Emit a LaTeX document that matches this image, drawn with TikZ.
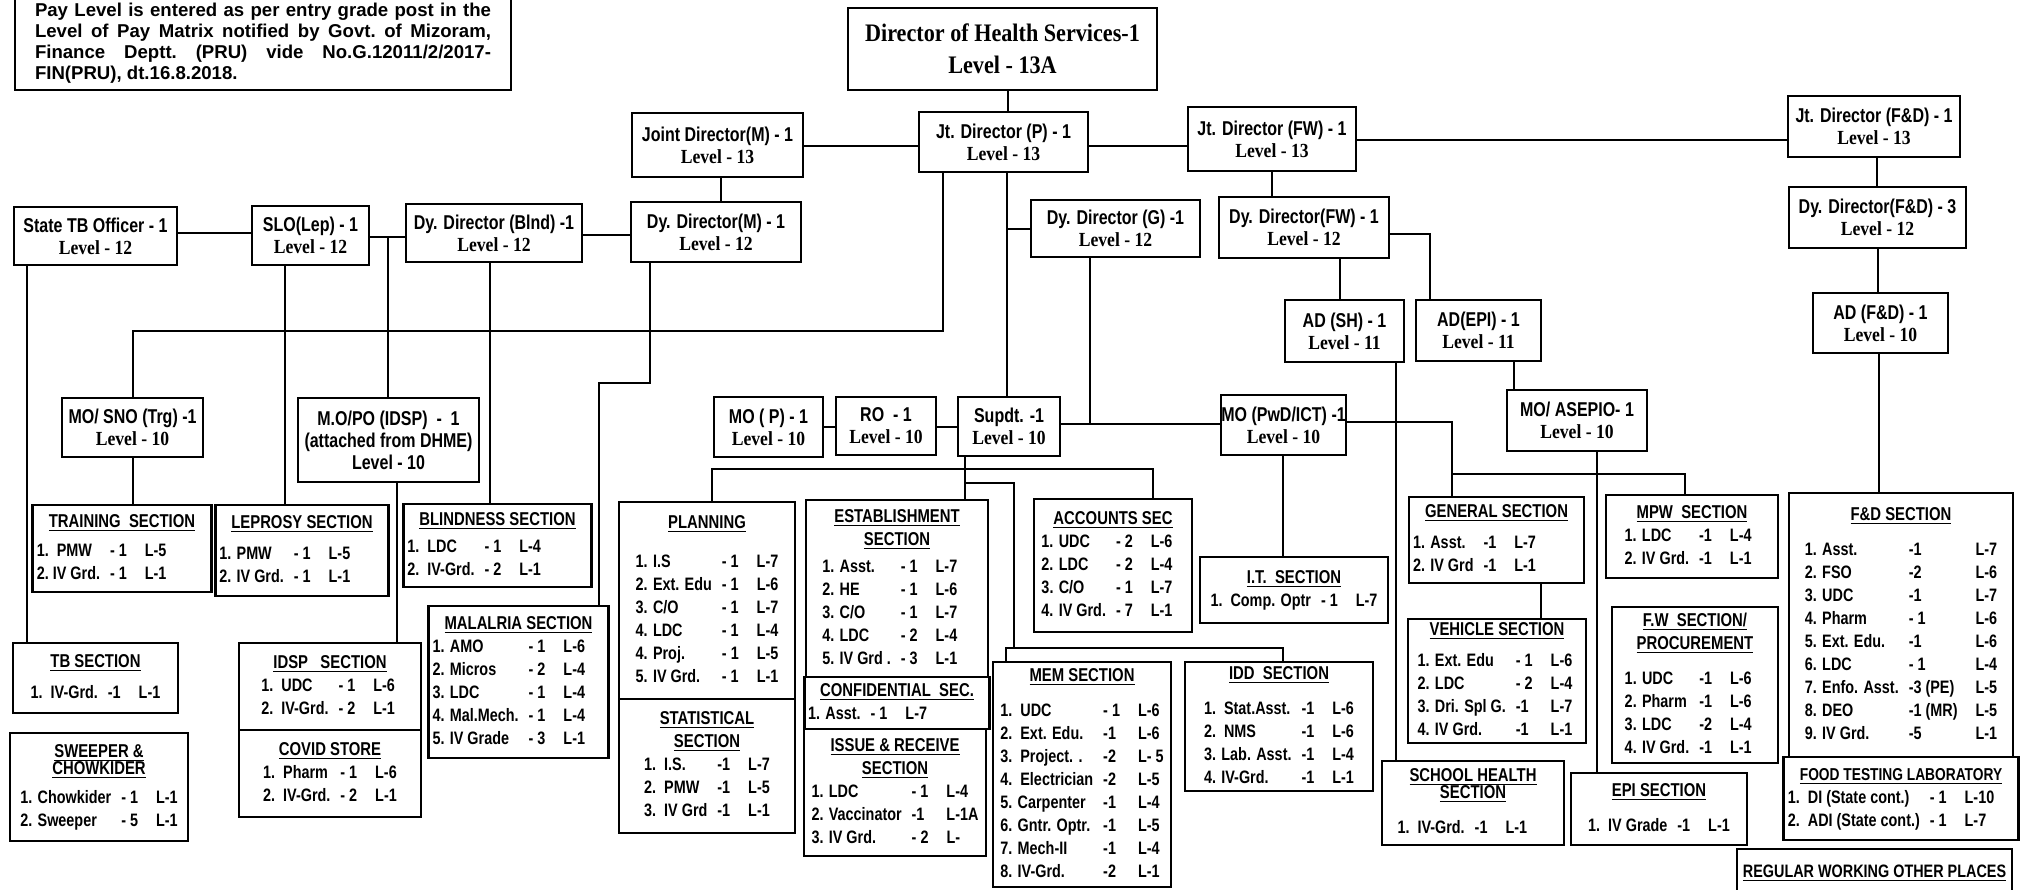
\documentclass[tikz,border=0pt]{standalone}
\usepackage{fontspec}
\setmainfont{Liberation Sans}[FakeStretch=0.8]
\newfontfamily\tnr{Liberation Serif}[FakeStretch=0.88]
\newfontfamily\notefont{Liberation Sans}
\newcommand{\lvl}[1]{{\tnr\bfseries Level - #1}}
\newcommand{\sechd}[1]{\multicolumn{3}{c}{\fontsize{9.3}{11.5}\selectfont\underline{#1}}}
\newcommand{\secbox}[3][2pt]{\begin{tabular}{@{}l@{\hspace{5pt}}l@{\hspace{9pt}}l@{}}#2\\[#1]#3\end{tabular}}
\begin{document}
\begin{tikzpicture}[x=0.5pt, y=-0.5pt, line width=1.4pt, line cap=rect,
    corners/.style n args={4}{at={({(#1+#3)/2},{(#2+#4)/2})}, minimum width={(#3-#1)*0.5pt}, minimum height={(#4-#2)*0.5pt}},
    orgbox/.style={draw, line width=1.4pt, inner sep=0pt, align=center, font=\bfseries\fontsize{10}{11}\selectfont},
    sectn/.style={draw, line width=1.4pt, inner ysep=0pt, inner xsep=2pt, font=\bfseries\fontsize{9}{11.5}\selectfont}]
	\useasboundingbox (0,0) rectangle (2038,889);
	%%%%%%%%%%%%%%%%%%%%%%%%%%%%%%%%%
	\node[sectn, corners={15}{-4}{511}{90}] (note) {\parbox{228pt}{\notefont\bfseries\fontsize{9.3}{10.5}\selectfont\frenchspacing
		Pay Level is entered as per entry grade post in the\linebreak
		Level of Pay Matrix notified by Govt. of Mizoram,\linebreak
		Finance Deptt. (PRU) vide No.G.12011/2/2017-\linebreak
		FIN(PRU), dt.16.8.2018.}};
	\node[orgbox, corners={848}{8}{1157}{90}, font=\tnr\bfseries\fontsize{12.6}{16}\selectfont] (dhs) {Director of Health Services-1\\Level - 13A};
	%%%%%%%%%%%%%%%%%%%%%%%%%%%%%%%%%
	\node[orgbox, corners={632}{113}{803}{177}] (jdm) {Joint Director(M) - 1\\\lvl{13}};
	\node[orgbox, corners={919}{112}{1088}{172}] (jdp) {Jt. Director (P) - 1\\\lvl{13}};
	\node[orgbox, corners={1188}{107}{1356}{171}] (jdfw) {Jt. Director (FW) - 1\\\lvl{13}};
	\node[orgbox, corners={1788}{96}{1960}{157}] (jdfd) {Jt. Director (F\&D) - 1\\\lvl{13}};
	\node[orgbox, corners={14}{207}{177}{265}] (stb) {State TB Officer - 1\\\lvl{12}};
	\node[orgbox, corners={252}{206}{369}{265}] (slo) {SLO(Lep) - 1\\\lvl{12}};
	\node[orgbox, corners={406}{204}{582}{262}] (ddb) {Dy. Director (Blnd) -1\\\lvl{12}};
	\node[orgbox, corners={631}{202}{801}{262}] (ddm) {Dy. Director(M) - 1\\\lvl{12}};
	\node[orgbox, corners={1031}{200}{1200}{257}] (ddg) {Dy. Director (G) -1\\\lvl{12}};
	\node[orgbox, corners={1219}{197}{1389}{258}] (ddfw) {Dy. Director(FW) - 1\\\lvl{12}};
	\node[orgbox, corners={1789}{187}{1966}{248}] (ddfd) {Dy. Director(F\&D) - 3\\\lvl{12}};
	\node[orgbox, corners={1285}{300}{1404}{362}] (adsh) {AD (SH) - 1\\\lvl{11}};
	\node[orgbox, corners={1416}{300}{1541}{361}] (adepi) {AD(EPI) - 1\\\lvl{11}};
	\node[orgbox, corners={1813}{293}{1948}{353}] (adfd) {AD (F\&D) - 1\\\lvl{10}};
	\node[orgbox, corners={62}{398}{203}{457}] (mosno) {MO/ SNO (Trg) -1\\\lvl{10}};
	\node[orgbox, corners={298}{398}{479}{482}] (mopo) {M.O/PO (IDSP) ~-~ 1\\(attached from DHME)\\Level - 10};
	\node[orgbox, corners={714}{397}{823}{457}] (mop) {MO ( P) - 1\\\lvl{10}};
	\node[orgbox, corners={836}{397}{936}{455}] (ro) {RO ~- 1\\\lvl{10}};
	\node[orgbox, corners={958}{397}{1060}{456}] (supdt) {Supdt. -1\\\lvl{10}};
	\node[orgbox, corners={1221}{395}{1346}{455}] (mopwd) {MO (PwD/ICT) -1\\\lvl{10}};
	\node[orgbox, corners={1507}{390}{1647}{451}] (moasepio) {MO/ ASEPIO- 1\\\lvl{10}};
	%%%%%%%%%%%%%%%%%%%%%%%%%%%%%%%%%
	\node[sectn, corners={33}{505}{211}{592}] (trg) {\secbox[3pt]{\sechd{TRAINING\ \ SECTION}}{1.\ \ PMW & - 1 & L-5\\2.\ IV Grd. & - 1 & L-1}};
	\node[sectn, corners={217}{505}{387}{596}] (lep) {\secbox[4pt]{\sechd{LEPROSY SECTION}}{1. PMW & - 1 & L-5\\2. IV Grd. & - 1 & L-1}};
	\node[sectn, corners={406}{504}{589}{587}] (blnd) {\secbox{\sechd{BLINDNESS SECTION}}{1.\ \ LDC & - 1 & L-4\\2.\ \ IV-Grd. & - 2 & L-1}};
	\node[sectn, corners={13}{643}{178}{713}] (tbsec) {\secbox[4pt]{\sechd{TB SECTION}}{1.\ \ IV-Grd. & -1 & L-1}};
	\node[sectn, corners={10}{733}{188}{841}] (swp) {\secbox[3pt]{\sechd{SWEEPER \&}\\[-3pt]\sechd{CHOWKIDER}}{1. Chowkider & - 1 & L-1\\2. Sweeper & - 5 & L-1}};
	\node[sectn, corners={239}{643}{421}{730}] (idsp) {\secbox[0pt]{\sechd{IDSP\ \ \ SECTION}}{1.\ \ UDC & - 1 & L-6\\2.\ \ IV-Grd. & - 2 & L-1}};
	\node[sectn, corners={239}{730}{421}{817}] (covid) {\secbox[0pt]{\sechd{COVID STORE}}{1.\ \ Pharm & - 1 & L-6\\2.\ \ IV-Grd. & - 2 & L-1}};
	\node[sectn, corners={429}{606}{608}{758}] (mal) {\secbox[0pt]{\sechd{MALALRIA SECTION}}{1. AMO & - 1 & L-6\\2. Micros & - 2 & L-4\\3. LDC & - 1 & L-4\\4. Mal.Mech. & - 1 & L-4\\5. IV Grade & - 3 & L-1}};
	\node[sectn, corners={619}{502}{795}{699}] (plan) {\secbox[8pt]{\sechd{PLANNING}}{1. I.S & - 1 & L-7\\2. Ext. Edu & - 1 & L-6\\3. C/O & - 1 & L-7\\4. LDC & - 1 & L-4\\4. Proj. & - 1 & L-5\\5. IV Grd. & - 1 & L-1}};
	\node[sectn, corners={619}{699}{795}{833}] (stat) {\secbox[0pt]{\sechd{STATISTICAL}\\\sechd{SECTION}}{1.\ \ I.S. & -1 & L-7\\2.\ \ PMW & -1 & L-5\\3.\ \ IV Grd & -1 & L-1}};
	\node[sectn, corners={806}{500}{988}{677}] (estb) {\secbox[2pt]{\sechd{ESTABLISHMENT}\\\sechd{SECTION}}{1. Asst. & - 1 & L-7\\2. HE & - 1 & L-6\\3. C/O & - 1 & L-7\\4. LDC & - 2 & L-4\\5. IV Grd . & - 3 & L-1}};
	\node[sectn, corners={806}{677}{988}{729}] (conf) {\secbox[0pt]{\sechd{CONFIDENTIAL\ \ SEC.}}{1. Asst. & - 1 & L-7}};
	\node[sectn, corners={804}{729}{986}{856}] (issue) {\secbox[0pt]{\sechd{ISSUE \& RECEIVE}\\\sechd{SECTION}}{1. LDC & - 1 & L-4\\2. Vaccinator & -1 & L-1A\\3. IV Grd. & - 2 & L-}};
	\node[sectn, corners={1034}{499}{1192}{632}] (acc) {\secbox[0pt]{\sechd{ACCOUNTS SEC}}{1. UDC & - 2 & L-6\\2. LDC & - 2 & L-4\\3. C/O & - 1 & L-7\\4. IV Grd. & - 7 & L-1}};
	\node[sectn, corners={1200}{557}{1388}{623}] (itsec) {\secbox[0pt]{\sechd{I.T.\ \ SECTION}}{1.\ \ Comp. Optr & - 1 & L-7}};
	\node[sectn, corners={993}{662}{1171}{887}] (mem) {\secbox[6pt]{\sechd{MEM SECTION}}{1.\ \ UDC & - 1 & L-6\\2.\ \ Ext. Edu. & -1 & L-6\\3.\ \ Project. . & -2 & L- 5\\4.\ \ Electrician & -2 & L-5\\5. Carpenter & -1 & L-4\\6. Gntr. Optr. & -1 & L-5\\7. Mech-II & -1 & L-4\\8. IV-Grd. & -2 & L-1}};
	\node[sectn, corners={1185}{662}{1373}{791}] (idd) {\secbox[6pt]{\sechd{IDD\ \ SECTION}}{1.\ \ Stat.Asst. & -1 & L-6\\2.\ \ NMS & -1 & L-6\\3. Lab. Asst. & -1 & L-4\\4. IV-Grd. & -1 & L-1}};
	\node[sectn, corners={1409}{497}{1584}{583}] (gen) {\secbox[4pt]{\sechd{GENERAL SECTION}}{1. Asst. & -1 & L-7\\2. IV Grd & -1 & L-1}};
	\node[sectn, corners={1606}{495}{1778}{578}] (mpw) {\secbox[0pt]{\sechd{MPW\ \ SECTION}}{1. LDC & -1 & L-4\\2. IV Grd. & -1 & L-1}};
	\node[sectn, corners={1408}{619}{1586}{743}] (veh) {\secbox[4pt]{\sechd{VEHICLE SECTION}}{1. Ext. Edu & - 1 & L-6\\2. LDC & - 2 & L-4\\3. Dri. Spl G. & -1 & L-7\\4. IV Grd. & -1 & L-1}};
	\node[sectn, corners={1382}{761}{1564}{845}] (shs) {\secbox[6pt]{\sechd{SCHOOL HEALTH}\\[-3pt]\sechd{SECTION}}{1.\ \ IV-Grd. & -1 & L-1}};
	\node[sectn, corners={1612}{607}{1778}{763}] (fwsec) {\secbox[6pt]{\sechd{F.W\ \ SECTION/}\\\sechd{PROCUREMENT}}{1. UDC & -1 & L-6\\2. Pharm & -1 & L-6\\3. LDC & -2 & L-4\\4. IV Grd. & -1 & L-1}};
	\node[sectn, corners={1571}{773}{1747}{845}] (epi) {\secbox[6pt]{\sechd{EPI SECTION}}{1.\ \ IV Grade & -1 & L-1}};
	\node[sectn, corners={1789}{493}{2013}{757}] (fdsec) {\secbox[6pt]{\sechd{F\&D SECTION}}{1. Asst. & -1 & L-7\\2. FSO & -2 & L-6\\3. UDC & -1 & L-7\\4. Pharm & - 1 & L-6\\5. Ext. Edu. & -1 & L-6\\6. LDC & - 1 & L-4\\7. Enfo. Asst. & -3 (PE) & L-5\\8. DEO & -1 (MR) & L-5\\9. IV Grd. & -5 & L-1}};
	\node[sectn, corners={1789}{757}{2013}{840}] (food) {\secbox[0pt]{\multicolumn{3}{c}{\fontsize{8.6}{11}\selectfont\underline{FOOD TESTING LABORATORY}}}{1.\ \ DI (State cont.) & - 1 & L-10\\2.\ \ ADI (State cont.) & - 1 & L-7}};
	\node[sectn, corners={1737}{849}{2012}{897}] (reg) {\underline{REGULAR WORKING OTHER PLACES}};
	%%%%%%%%%%%%%%%%%%%%%%%%%%%%%%%%%
	\draw (dhs.south -| 1008,0) -- (jdp.north -| 1008,0);
	\draw (jdm.east |- 0,146) -- (jdp.west |- 0,146);
	\draw (jdp.east |- 0,146) -- (jdfw.west |- 0,146);
	\draw (jdfw.east |- 0,140) -- (jdfd.west |- 0,140);
	\draw (jdm.south -| 721,0) -- (ddm.north -| 721,0);
	\draw (jdfw.south -| 1272,0) -- (ddfw.north -| 1272,0);
	\draw (jdfd.south -| 1877,0) -- (ddfd.north -| 1877,0);
	\draw (ddfd.south -| 1878,0) -- (adfd.north -| 1878,0);
	\draw (adfd.south -| 1879,0) -- (fdsec.north -| 1879,0);
	%%%%%%%%%%%%%%%%%%%%%%%%%%%%%%%%%
	\draw (stb.east |- 0,233) -- (slo.west |- 0,233);
	\draw (slo.east |- 0,237) -- (ddb.west |- 0,237);
	\draw (388,237) -- (mopo.north -| 388,0);
	\draw (ddb.east |- 0,235) -- (ddm.west |- 0,235);
	\draw (stb.south -| 27,0) -- (tbsec.north -| 27,0);
	\draw (slo.south -| 285,0) -- (lep.north -| 285,0);
	\draw (ddb.south -| 490,0) -- (blnd.north -| 490,0);
	\draw (mopo.south -| 397,0) -- (idsp.north -| 397,0);
	\draw (mosno.south -| 133,0) -- (trg.north -| 133,0);
	\draw (ddm.south -| 650,0) -- (650,383) -- (599,383) -- (mal.north -| 599,0);
	\draw (jdp.south -| 943,0) -- (943,331) -- (133,331) -- (mosno.north -| 133,0);
	%%%%%%%%%%%%%%%%%%%%%%%%%%%%%%%%%
	\draw (jdp.south -| 1007,0) -- (supdt.north -| 1007,0);
	\draw (1007,229) -- (ddg.west |- 0,229);
	\draw (ddg.south -| 1090,0) -- (1090,424);
	\draw (supdt.east |- 0,424) -- (mopwd.west |- 0,424);
	\draw (mop.east |- 0,427) -- (ro.west |- 0,427);
	\draw (ro.east |- 0,427) -- (supdt.west |- 0,427);
	\draw (supdt.south -| 965,0) -- (estb.north -| 965,0);
	\draw (plan.north -| 712,0) -- (712,469) -- (1153,469) -- (acc.north -| 1153,0);
	\draw (965,483) -- (1014,483) -- (1014,648);
	\draw (mem.north -| 1006,0) -- (1006,648) -- (1283,648) -- (idd.north -| 1283,0);
	\draw (mopwd.south -| 1283,0) -- (itsec.north -| 1283,0);
	%%%%%%%%%%%%%%%%%%%%%%%%%%%%%%%%%
	\draw (ddfw.south -| 1340,0) -- (adsh.north -| 1340,0);
	\draw (ddfw.east |- 0,234) -- (1430,234) -- (adepi.north -| 1430,0);
	\draw (adsh.south -| 1396,0) -- (shs.north -| 1396,0);
	\draw (adepi.south -| 1514,0) -- (moasepio.north -| 1514,0);
	\draw (moasepio.south -| 1597,0) -- (epi.north -| 1597,0);
	\draw (mopwd.east |- 0,422) -- (1452,422) -- (gen.north -| 1452,0);
	\draw (1452,474) -- (1685,474) -- (mpw.north -| 1685,0);
	\draw (gen.south -| 1541,0) -- (veh.north -| 1541,0);
	%%%%%%%%%%%%%%%%%%%%%%%%%%%%%%%%%
\end{tikzpicture}
\end{document}
